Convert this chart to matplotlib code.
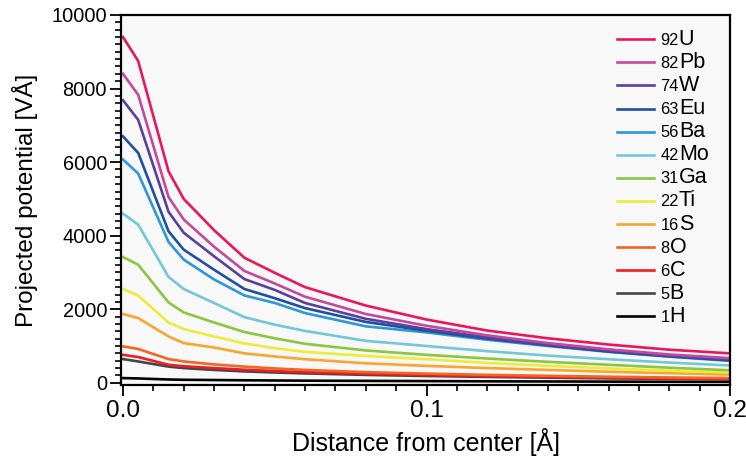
import matplotlib
matplotlib.use("Agg")
import matplotlib.pyplot as plt
from matplotlib.lines import Line2D
from matplotlib.ticker import MultipleLocator, FormatStrFormatter
from matplotlib.offsetbox import AnchoredOffsetbox, HPacker, TextArea, DrawingArea

plt.rcParams['font.family'] = ['Liberation Sans', 'DejaVu Sans']

# distance from center [Å]
distance = [0.0, 0.005, 0.015, 0.02, 0.03, 0.04, 0.05, 0.06, 0.08, 0.10, 0.12, 0.14, 0.16, 0.18, 0.20]

# projected potential [VÅ]
U  = [9400, 8750, 5750, 5000, 4150, 3400, 2990, 2600, 2100, 1720, 1420, 1210, 1040, 900, 800]
Pb = [8400, 7830, 5050, 4440, 3700, 3040, 2700, 2340, 1870, 1550, 1290, 1080, 910, 770, 670]
W  = [7680, 7150, 4650, 4080, 3440, 2820, 2525, 2170, 1740, 1460, 1235, 1040, 880, 740, 630]
Eu = [6700, 6250, 4120, 3620, 3075, 2550, 2300, 2030, 1655, 1415, 1200, 1020, 850, 720, 610]
Ba = [6070, 5690, 3830, 3350, 2810, 2375, 2170, 1895, 1535, 1370, 1170, 1000, 840, 710, 595]
Mo = [4600, 4300, 2880, 2550, 2170, 1784, 1580, 1410, 1140, 1000, 860, 740, 640, 550, 470]
Ga = [3420, 3210, 2185, 1913, 1640, 1380, 1210, 1060, 880, 760, 660, 570, 490, 410, 340]
Ti = [2550, 2370, 1640, 1460, 1260, 1070, 940, 840, 730, 640, 540, 460, 390, 330, 280]
S  = [1870, 1760, 1260, 1080, 960, 800, 716, 640, 530, 460, 400, 350, 300, 260, 225]
O  = [990, 920, 645, 580, 500, 440, 390, 350, 290, 250, 215, 190, 165, 145, 128]
C  = [760, 700, 490, 450, 400, 355, 320, 290, 245, 210, 180, 160, 140, 120, 105]
B  = [645, 580, 440, 400, 350, 310, 280, 255, 215, 185, 160, 140, 120, 105, 90]
H  = [128, 118, 90, 82, 75, 68, 63, 58, 52, 46, 40, 36, 32, 28, 25]

series = [U, Pb, W, Eu, Ba, Mo, Ga, Ti, S, O, C, B, H]
atomic_numbers = ["92", "82", "74", "63", "56", "42", "31", "22", "16", "8", "6", "5", "1"]
symbols = ["U", "Pb", "W", "Eu", "Ba", "Mo", "Ga", "Ti", "S", "O", "C", "B", "H"]
colors = ["#e8175d", "#c4489c", "#5b3f9c", "#1f4f9f", "#2f96d9", "#72c7d9", "#8cc63f",
          "#ecec3a", "#f9a52f", "#f26522", "#ee1c24", "#454545", "#000000"]

fig = plt.figure(figsize=(7.46, 4.63), dpi=100)
ax = fig.add_axes([121/746, 1-385/463, 609/746, 370/463])
ax.set_facecolor("#f8f8f9")

for vals, col in zip(series[::-1], colors[::-1]):
    ax.plot(distance, vals, color=col, lw=1.9, solid_joinstyle='round')

ax.set_xlim(-0.00066, 0.2)
ax.set_ylim(-60, 10000)

ax.xaxis.set_major_locator(MultipleLocator(0.1))
ax.xaxis.set_minor_locator(MultipleLocator(0.01))
ax.xaxis.set_major_formatter(FormatStrFormatter('%.1f'))
ax.yaxis.set_major_locator(MultipleLocator(2000))
ax.yaxis.set_minor_locator(MultipleLocator(200))

ax.tick_params(which='major', direction='out', length=8, width=1.3, color='black')
ax.tick_params(which='minor', direction='out', length=4, width=1.2, color='black')
ax.tick_params(axis='y', which='major', labelsize=14.4, pad=2)
ax.tick_params(axis='x', which='major', labelsize=17.5, pad=3)

for sp in ax.spines.values():
    sp.set_linewidth(1.6)

ax.set_xlabel("Distance from center [Å]", fontsize=18, labelpad=4)
ax.set_ylabel("Projected potential [VÅ]", fontsize=17.5, labelpad=10)

# legend with small atomic numbers
x0 = 0.814
y0 = 0.9343
dy = 0.0624
for i, (num, sym, col) in enumerate(zip(atomic_numbers, symbols, colors)):
    da = DrawingArea(27, 10, 0, 0)
    da.add_artist(Line2D([0, 27], [5, 5], color=col, lw=1.9))
    txt = HPacker(children=[TextArea(num, textprops=dict(fontsize=11.8)),
                            TextArea(sym, textprops=dict(fontsize=15.5))],
                  align='baseline', pad=0, sep=0)
    row = HPacker(children=[da, txt], align='center', pad=0, sep=4.5)
    box = AnchoredOffsetbox(loc='center left', child=row, pad=0, borderpad=0,
                            frameon=False, bbox_to_anchor=(x0, y0 - i*dy),
                            bbox_transform=ax.transAxes)
    ax.add_artist(box)

fig.savefig("out.png", dpi=100)
